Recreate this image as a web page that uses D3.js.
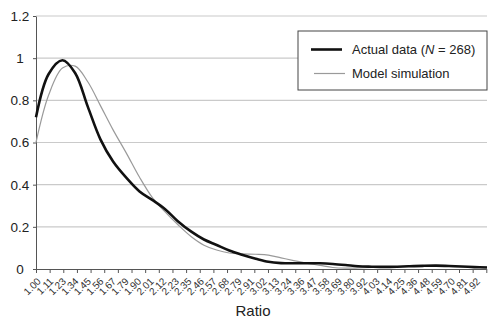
<!DOCTYPE html>
<html>
<head>
<meta charset="utf-8">
<script src="https://cdn.jsdelivr.net/npm/d3@7"></script>
<style>
  body { margin: 0; background: #fff; }
  svg { display: block; font-family: "Liberation Sans", Arial, sans-serif; }
</style>
</head>
<body>
<svg id="chart" width="488" height="320"></svg>
<script>
// ratio categories on the x axis
const ratioLabels = ["1.00","1.11","1.23","1.34","1.45","1.56","1.67","1.79","1.90","2.01","2.12","2.23",
  "2.35","2.46","2.57","2.68","2.79","2.91","3.02","3.13","3.24","3.36","3.47","3.58","3.69","3.80",
  "3.92","4.03","4.14","4.25","4.36","4.48","4.59","4.70","4.81","4.92"];

// actual data (N = 268)
const actualData = [0.72,0.925,0.99,0.93,0.77,0.615,0.51,0.43,0.368,0.328,0.285,0.228,
  0.177,0.14,0.114,0.088,0.068,0.049,0.034,0.028,0.027,0.027,0.027,0.024,0.019,0.013,
  0.011,0.010,0.011,0.013,0.015,0.016,0.014,0.012,0.009,0.007];

// model simulation
const modelData = [0.60,0.825,0.953,0.962,0.888,0.775,0.66,0.545,0.435,0.34,0.272,0.212,
  0.153,0.113,0.09,0.076,0.072,0.07,0.066,0.053,0.04,0.027,0.017,0.007,0.004,0.005,
  0.007,0.009,0.011,0.012,0.013,0.013,0.012,0.011,0.010,0.009];

const yTicks = [0, 0.2, 0.4, 0.6, 0.8, 1, 1.2];
const yTickLabels = ["0","0.2","0.4","0.6","0.8","1","1.2"];
const tickCount = 34; // tick marks along the x axis

const svg = d3.select("#chart");
const plotLeft = 36, plotRight = 487, plotTop = 16, plotBottom = 269;

const x = d3.scaleLinear().domain([1.00, 4.92]).range([plotLeft, plotRight]);
const y = d3.scaleLinear().domain([0, 1.2]).range([plotBottom, plotTop]);
const tickPos = d3.scaleLinear().domain([0, tickCount - 1]).range([plotLeft, 486.3]);
const labelPos = d3.scalePoint().domain(ratioLabels).range([41.5, 480.8]);

// grid
svg.append("g").selectAll("line").data(yTicks.slice(1)).enter().append("line")
    .attr("x1", plotLeft).attr("x2", plotRight)
    .attr("y1", d => y(d)).attr("y2", d => y(d))
    .attr("stroke", "#cacaca").attr("stroke-width", 1.2);

// y axis
const yAxis = svg.append("g").attr("transform", `translate(${plotLeft},0)`)
    .call(d3.axisLeft(y).tickValues(yTicks).tickSize(3).tickSizeOuter(0).tickFormat(""));
yAxis.select(".domain").attr("stroke", "#555");
yAxis.selectAll(".tick line").attr("stroke", "#555");

svg.append("g").selectAll("text").data(yTicks).enter().append("text")
    .attr("x", 20).attr("y", d => y(d)).attr("dy", "0.36em")
    .attr("text-anchor", "middle").attr("font-size", "13.5px").attr("fill", "#222")
    .text((d, i) => yTickLabels[i]);

// x axis
const xAxis = svg.append("g").attr("transform", `translate(0,${plotBottom})`)
    .call(d3.axisBottom(tickPos).tickValues(d3.range(tickCount)).tickSize(4).tickSizeOuter(0).tickFormat(""));
xAxis.select(".domain").attr("stroke", "#555");
xAxis.selectAll(".tick line").attr("stroke", "#555");

svg.append("g").selectAll("text").data(ratioLabels).enter().append("text")
    .attr("transform", d => `translate(${labelPos(d)},282) rotate(-45)`)
    .attr("text-anchor", "end").attr("font-size", "10px").attr("fill", "#333")
    .text(d => d);

svg.append("text").attr("x", 253).attr("y", 316).attr("text-anchor", "middle")
    .attr("font-size", "15px").attr("fill", "#222").text("Ratio");

// lines
const line = d3.line()
    .x((d, i) => x(+ratioLabels[i]))
    .y(d => y(d))
    .curve(d3.curveCatmullRom.alpha(0.5));

svg.append("path").datum(modelData).attr("d", line)
    .attr("fill", "none").attr("stroke", "#9a9a9a").attr("stroke-width", 1.2);
svg.append("path").datum(actualData).attr("d", line)
    .attr("fill", "none").attr("stroke", "#111").attr("stroke-width", 2.6);

// legend
const lg = svg.append("g");
lg.append("rect").attr("x", 298).attr("y", 31).attr("width", 189).attr("height", 59)
    .attr("fill", "#fff").attr("stroke", "#444").attr("stroke-width", 1);
lg.append("line").attr("x1", 311).attr("x2", 342).attr("y1", 49.5).attr("y2", 49.5)
    .attr("stroke", "#111").attr("stroke-width", 2.6);
lg.append("line").attr("x1", 314).attr("x2", 345).attr("y1", 73.5).attr("y2", 73.5)
    .attr("stroke", "#9a9a9a").attr("stroke-width", 1.2);
const t1 = lg.append("text").attr("x", 352).attr("y", 54).attr("font-size", "13px").attr("fill", "#222");
t1.append("tspan").text("Actual data (");
t1.append("tspan").attr("font-style", "italic").text("N");
t1.append("tspan").text(" = 268)");
lg.append("text").attr("x", 352).attr("y", 78).attr("font-size", "13px").attr("fill", "#222")
    .text("Model simulation");
</script>
</body>
</html>
